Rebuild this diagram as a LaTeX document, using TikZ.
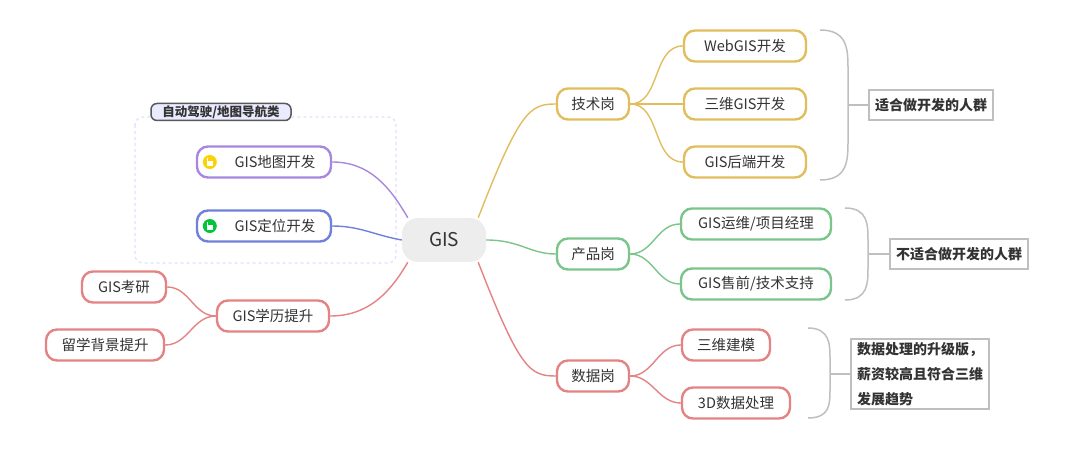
\documentclass[tikz,border=0pt]{standalone}
\usepackage{fontspec}
\setmainfont{Noto Sans CJK SC}
\begin{document}
\begin{tikzpicture}[x=1pt,y=-1pt,
  every node/.style={font=\fontsize{14.5}{17}\selectfont,text=black!80},
  topic/.style={draw=#1,line width=2.4pt,rounded corners=11pt,fill=white,minimum height=31pt,inner xsep=10pt},
  link/.style={draw=#1,line width=1.4pt},
  tag/.style={draw=black!25,line width=2.4pt,fill=white,font=\fontsize{14}{25}\selectfont\bfseries,inner xsep=6pt,inner ysep=8pt,align=left},
  br/.style={draw=black!25,line width=1.5pt}]
\definecolor{yel}{HTML}{E2BD5E}
\definecolor{grn}{HTML}{7CC58A}
\definecolor{red}{HTML}{E48383}
\definecolor{pur}{HTML}{A888DE}
\definecolor{blu}{HTML}{7081DA}
\useasboundingbox (0,0) rectangle (1080,462);
% dashed group
\draw[draw=blue!12,dashed,line width=1.3pt,rounded corners=8pt] (135,117) rectangle (396,263);
\node[draw=black!65,fill=blue!8,line width=1.5pt,rounded corners=6pt,inner sep=0pt,minimum width=140pt,minimum height=17pt,font=\fontsize{12.5}{14}\selectfont\bfseries] (grp) at (221,112) {自动驾驶/地图导航类};
% center
\node[fill=black!7,rounded corners=16pt,minimum width=84pt,minimum height=44pt,font=\fontsize{19}{22}\selectfont] (gis) at (444,240) {GIS};
% right
\node[topic=yel,minimum width=72pt] (js) at (593,104) {技术岗};
\node[topic=yel,minimum width=122pt] (web) at (745,46) {WebGIS开发};
\node[topic=yel,minimum width=122pt] (sw) at (745,104) {三维GIS开发};
\node[topic=yel,minimum width=122pt] (hd) at (745,162) {GIS后端开发};
\node[topic=grn,minimum width=72pt] (cp) at (593,254) {产品岗};
\node[topic=grn,minimum width=150pt] (yw) at (756,224) {GIS运维/项目经理};
\node[topic=grn,minimum width=150pt] (sq) at (756,284) {GIS售前/技术支持};
\node[topic=red,minimum width=72pt] (sj) at (593,376) {数据岗};
\node[topic=red,minimum width=88pt] (jm) at (726,345) {三维建模};
\node[topic=red,minimum width=108pt] (cl) at (736,403) {3D数据处理};
% left
\node[topic=pur,minimum width=134pt,inner xsep=0pt] (dt) at (264,162) {\hspace{22pt}GIS地图开发};
\node[topic=blu,minimum width=134pt,inner xsep=0pt] (dw) at (264,226) {\hspace{22pt}GIS定位开发};
\node[topic=red,minimum width=112pt] (xl) at (273,316) {GIS学历提升};
\node[topic=red,minimum width=84pt] (ky) at (124,287) {GIS考研};
\node[topic=red,minimum width=118pt] (lx) at (105,345) {留学背景提升};
% icons
\foreach \c/\n in {{yellow!70!orange}/dt,{green!55!teal}/dw}{
  \fill[\c] ([xshift=14pt]\n.west) circle (7pt);
  \fill[white] ([xshift=11pt,yshift=-4pt]\n.west) rectangle ++(1.3pt,8pt);
  \fill[white] ([xshift=12pt,yshift=-4pt]\n.west) rectangle ++(5pt,4.5pt);
}
% links
\draw[link=yel] ([xshift=-8pt]gis.north east) .. controls (520,110) and (530,104) .. (js.west);
\draw[link=grn] (gis.east) .. controls (520,240) and (530,254) .. (cp.west);
\draw[link=red] ([xshift=-8pt]gis.south east) .. controls (520,370) and (530,376) .. (sj.west);
\foreach \a/\b/\c in {js/web/yel,js/sw/yel,js/hd/yel,cp/yw/grn,cp/sq/grn,sj/jm/red,sj/cl/red}{
  \draw[link=\c] (\a.east) to[out=0,in=180] (\b.west);}
\draw[link=pur] (dt.east) to[out=0,in=120] ([xshift=6pt]gis.north west);
\draw[link=blu] (dw.east) to[out=0,in=170] (gis.west);
\draw[link=red] (xl.east) to[out=0,in=240] ([xshift=6pt]gis.south west);
\draw[link=red] (ky.east) to[out=0,in=180] (xl.west);
\draw[link=red] (lx.east) to[out=0,in=180] (xl.west);
% tags
\node[tag] (t1) at (931,105) {适合做开发的人群};
\node[tag] (t2) at (959,254) {不适合做开发的人群};
\node[tag,inner ysep=3pt] (t3) at (920,374) {数据处理的升级版，\\薪资较高且符合三维\\发展趋势};
% braces
\draw[br] (820,30) .. controls (848,30) and (848,50) .. (848,70) -- (848,140) .. controls (848,160) and (848,180) .. (820,180);
\draw[br] (848,105) -- (t1.west);
\draw[br] (845,208) .. controls (868,208) and (868,225) .. (868,240) -- (868,268) .. controls (868,283) and (868,300) .. (845,300);
\draw[br] (868,254) -- (t2.west);
\draw[br] (808,328) .. controls (830,328) and (830,345) .. (830,358) -- (830,390) .. controls (830,404) and (830,418) .. (808,418);
\draw[br] (830,374) -- (t3.west);
\end{tikzpicture}
\end{document}
